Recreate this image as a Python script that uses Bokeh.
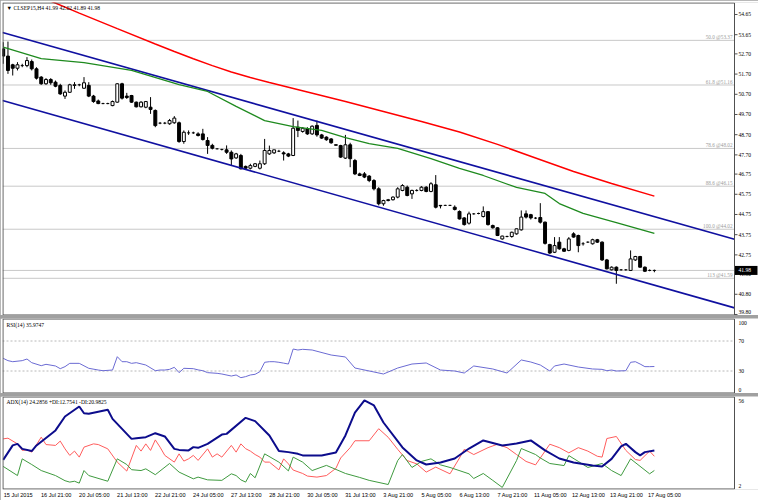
import numpy as np
from bokeh.plotting import figure
from bokeh.models import Range1d, FixedTicker
from bokeh.layouts import column
from bokeh.embed import file_html
from bokeh.resources import INLINE

# ---------------- data ----------------
chart_title = "\u25bc CLSEP15,H4  41.99 42.02 41.89 41.98"

open_ = [52.95, 52.59, 52.16, 51.99, 52.12, 52.12, 52.32, 51.96, 51.55, 51.22,
         51.43, 51.30, 51.14, 50.61, 50.80, 51.14, 51.17, 51.00, 51.14, 50.61,
         50.37, 50.24, 50.24, 50.14, 50.31, 51.22, 50.61, 50.64, 50.31, 50.08,
         50.06, 50.06, 49.90, 49.27, 49.27, 49.24, 49.29, 49.29, 48.36, 48.79,
         48.79, 48.74, 48.74, 48.41, 48.17, 48.00, 47.97, 47.95, 47.83, 47.55,
         47.67, 47.13, 47.04, 47.13, 47.04, 47.26, 47.75, 47.80, 47.88, 47.80,
         47.75, 47.67, 49.07, 48.86, 48.99, 48.74, 49.16, 48.69, 48.58, 48.49,
         48.20, 48.16, 47.54, 48.20, 47.42, 46.76, 46.76, 46.65, 46.43, 46.02,
         45.28, 45.44, 45.48, 45.61, 45.94, 46.10, 45.77, 45.94, 45.94, 46.10,
         45.89, 46.22, 45.20, 45.20, 45.20, 45.11, 44.90, 44.58, 44.32, 44.78,
         44.80, 44.65, 44.89, 44.20, 44.09, 43.54, 43.66, 43.66, 43.79, 43.99,
         44.78, 44.74, 44.57, 44.60, 44.37, 43.26, 42.88, 43.38, 43.05, 42.97,
         43.79, 43.71, 43.30, 43.38, 43.30, 43.50, 43.38, 42.50, 42.01, 42.14,
         42.01, 42.01, 41.98, 42.50, 42.67, 42.14, 41.98, 41.99]
high = [53.28, 53.31, 52.21, 52.29, 52.21, 52.54, 52.42, 52.04, 51.60, 51.50,
        51.50, 51.38, 51.22, 50.89, 51.22, 51.30, 51.22, 51.55, 51.30, 50.67,
        50.44, 50.28, 50.28, 50.39, 51.25, 51.27, 50.77, 50.67, 50.34, 50.36,
        50.37, 50.56, 49.95, 49.33, 49.33, 49.48, 49.62, 49.35, 48.91, 48.91,
        48.85, 48.82, 48.99, 48.58, 48.25, 48.03, 48.00, 48.17, 47.92, 47.80,
        47.75, 47.17, 47.26, 47.30, 47.42, 48.49, 48.16, 47.95, 47.95, 47.88,
        47.80, 49.52, 49.40, 49.07, 49.07, 49.16, 49.40, 48.74, 48.62, 48.53,
        48.22, 48.20, 48.69, 48.30, 47.50, 46.82, 46.85, 46.70, 46.50, 46.10,
        45.48, 45.52, 45.65, 46.10, 46.25, 46.18, 45.98, 46.00, 46.15, 46.15,
        46.35, 46.70, 45.22, 45.23, 45.23, 45.20, 44.95, 44.62, 44.89, 44.82,
        44.84, 45.15, 44.92, 44.25, 44.12, 43.70, 43.70, 43.90, 44.05, 44.95,
        44.95, 44.78, 44.62, 45.31, 44.40, 43.30, 43.63, 43.63, 43.10, 43.63,
        43.87, 43.75, 43.38, 43.42, 43.55, 43.54, 43.42, 42.55, 42.18, 42.18,
        42.05, 42.05, 42.97, 42.70, 42.70, 42.18, 42.03, 42.02]
low = [52.21, 51.71, 51.63, 51.88, 52.04, 52.04, 51.88, 51.43, 51.17, 51.17,
       51.17, 51.05, 50.67, 50.47, 50.77, 50.97, 51.10, 50.97, 50.56, 50.28,
       50.21, 50.21, 50.21, 50.11, 50.28, 50.44, 50.47, 50.28, 50.05, 50.05,
       50.01, 49.73, 49.07, 49.22, 49.22, 49.19, 49.24, 48.30, 48.25, 48.69,
       48.74, 48.61, 48.41, 47.75, 47.97, 47.97, 47.92, 47.75, 47.17, 47.50,
       46.98, 47.01, 46.98, 47.09, 46.98, 47.20, 47.70, 47.75, 47.84, 47.42,
       47.59, 47.64, 48.58, 48.80, 48.69, 48.69, 48.60, 48.49, 48.40, 48.25,
       48.16, 47.55, 47.50, 47.09, 46.70, 46.65, 46.55, 46.35, 45.94, 45.20,
       45.18, 45.40, 45.44, 45.55, 45.90, 45.65, 45.52, 45.89, 45.90, 45.85,
       45.85, 45.05, 45.05, 45.17, 45.17, 44.95, 44.50, 44.20, 44.25, 44.74,
       44.76, 44.60, 44.20, 44.05, 43.68, 43.50, 43.62, 43.60, 43.75, 43.95,
       44.55, 44.50, 44.52, 44.30, 43.26, 42.80, 42.84, 43.00, 42.90, 42.93,
       43.60, 42.88, 43.21, 43.34, 43.26, 43.34, 42.45, 42.03, 41.98, 41.32,
       41.97, 41.97, 41.95, 42.45, 42.12, 41.90, 41.94, 41.89]
close = [52.59, 51.88, 51.99, 52.16, 52.12, 52.37, 51.96, 51.50, 51.22, 51.43,
         51.27, 51.10, 50.72, 50.80, 51.17, 51.17, 51.17, 51.27, 50.61, 50.34,
         50.24, 50.24, 50.24, 50.34, 51.22, 50.51, 50.54, 50.31, 50.08, 50.31,
         50.34, 49.95, 49.15, 49.27, 49.27, 49.40, 49.52, 48.36, 48.82, 48.79,
         48.79, 48.66, 48.46, 48.17, 48.03, 48.00, 47.97, 47.83, 47.50, 47.75,
         47.01, 47.04, 47.17, 47.26, 47.26, 47.92, 47.92, 47.95, 47.88, 47.75,
         47.64, 49.02, 48.91, 49.02, 48.74, 49.12, 48.69, 48.53, 48.45, 48.30,
         48.18, 47.59, 48.20, 47.51, 46.76, 46.68, 46.60, 46.43, 46.02, 45.28,
         45.44, 45.48, 45.61, 46.02, 46.18, 45.69, 45.94, 45.94, 46.10, 45.89,
         46.27, 45.11, 45.18, 45.20, 45.20, 45.00, 44.53, 44.25, 44.78, 44.78,
         44.80, 44.89, 44.25, 44.09, 43.71, 43.68, 43.66, 43.87, 44.04, 44.62,
         44.62, 44.58, 44.57, 44.37, 43.32, 42.84, 43.21, 43.05, 42.93, 43.54,
         43.63, 43.21, 43.30, 43.38, 43.50, 43.38, 42.50, 42.06, 42.14, 41.98,
         42.01, 42.01, 42.55, 42.67, 42.14, 41.94, 41.98, 41.98]

date_labels = ["15 Jul 2015", "16 Jul 21:00", "20 Jul 05:00", "21 Jul 13:00",
               "22 Jul 21:00", "24 Jul 05:00", "27 Jul 13:00", "28 Jul 21:00",
               "30 Jul 05:00", "31 Jul 13:00", "3 Aug 21:00", "5 Aug 05:00",
               "6 Aug 13:00", "7 Aug 21:00", "11 Aug 05:00", "12 Aug 13:00",
               "13 Aug 21:00", "17 Aug 05:00"]
date_label_step = 8  # one label every 8 H4 bars

price_ticks = [54.65, 53.65, 52.70, 51.70, 50.70, 49.70, 48.70, 47.70, 46.75,
               45.75, 44.75, 43.75, 42.75, 41.80, 40.80, 39.80]

fib_pct = ["50.0", "61.8", "78.6", "88.6", "100.0", "113"]
fib_price = [53.37, 51.16, 48.02, 46.15, 44.02, 41.59]
bid_price = 41.98

red_idx = [8, 16, 24, 32, 36, 40, 44, 48, 52, 56, 64, 72, 80, 88, 96, 104, 112,
           120, 128, 137]
red_val = [55.51, 54.72, 53.95, 53.19, 52.82, 52.46, 52.12, 51.80, 51.53, 51.28,
           50.81, 50.34, 49.85, 49.35, 48.83, 48.22, 47.55, 46.88, 46.28, 45.66]

green_idx = [0, 8, 17, 27, 37, 43, 49, 55, 61, 67, 72, 77, 83, 90, 96, 101, 108,
             114, 117, 122, 129, 137]
green_val = [53.03, 52.47, 52.27, 51.88, 51.18, 50.84, 50.10, 49.40, 49.10, 48.91,
             48.56, 48.26, 48.02, 47.52, 47.03, 46.68, 46.09, 45.79, 45.29, 44.80,
             44.35, 43.81]

upper_anchor_idx = [0, 137]
upper_anchor_val = [53.75, 44.64]
lower_anchor_idx = [0, 137]
lower_anchor_val = [50.38, 41.25]

rsi_label = "RSI(14) 35.9747"
rsi_levels = [30, 70]
rsi_axis_labels = ["100", "70", "30", "0"]
rsi_idx = [0, 1, 2, 4, 5, 6, 8, 9, 11, 12, 13, 14, 16, 18, 20, 21, 23, 24, 25, 26,
           27, 28, 30, 32, 33, 34, 35, 36, 37, 38, 40, 41, 42, 43, 45, 46, 48, 49,
           50, 51, 52, 53, 54, 55, 56, 57, 58, 59, 60, 61, 62, 63, 65, 69, 72, 74,
           78, 80, 83, 86, 89, 92, 95, 97, 99, 103, 106, 109, 111, 113, 115, 116,
           118, 121, 124, 126, 127, 128, 129, 131, 132, 133, 134, 135, 136, 137]
rsi_val = [46.9, 43.8, 42.4, 43.8, 46.0, 41.1, 37.1, 38.9, 36.7, 33.1, 35.8, 40.2,
           40.2, 33.6, 31.3, 30.4, 31.3, 49.1, 42.4, 42.4, 40.2, 41.1, 38.0, 30.4,
           31.3, 31.3, 32.2, 34.9, 27.8, 33.6, 33.1, 31.5, 30.4, 27.8, 26.9, 26.0,
           23.3, 24.7, 21.1, 22.5, 24.7, 25.6, 29.1, 41.6, 42.4, 42.4, 41.6, 40.5,
           39.3, 59.3, 58.0, 58.9, 58.0, 51.3, 48.7, 34.0, 28.7, 26.0, 34.0, 39.3,
           40.7, 31.3, 30.0, 27.3, 36.7, 32.7, 27.3, 44.7, 42.0, 38.0, 30.0, 36.7,
           39.3, 35.3, 32.7, 32.2, 30.4, 31.3, 30.0, 30.4, 41.6, 42.4, 39.3, 35.8,
           35.8, 35.97]

adx_label = "ADX(14) 24.2856 +DI:12.7541 -DI:20.9825"
adx_axis_labels = ["56", "2"]
adx_idx = [0, 2, 3, 4, 6, 7, 11, 13, 16, 17, 18, 22, 23, 27, 28, 30, 32, 34, 36, 37,
           39, 40, 41, 43, 46, 47, 51, 53, 56, 58, 60, 62, 63, 67, 70, 72, 74, 76,
           78, 80, 84, 87, 89, 92, 95, 98, 101, 105, 108, 111, 114, 117, 120, 124,
           126, 128, 130, 131, 133, 134, 135, 137]
adx_val = [18.9, 27.3, 28.2, 25.3, 24.0, 27.3, 36.0, 44.1, 49.9, 46.0, 45.7, 48.0,
           42.7, 31.1, 31.5, 32.1, 34.4, 32.5, 25.3, 24.7, 24.4, 26.3, 25.9, 28.2,
           33.6, 34.0, 43.3, 41.4, 33.1, 24.0, 23.4, 22.4, 21.5, 21.5, 23.2, 33.1,
           46.4, 53.4, 50.5, 40.6, 26.1, 18.6, 16.2, 17.4, 19.7, 25.5, 30.2, 27.3,
           28.4, 30.2, 24.4, 19.7, 17.4, 15.6, 15.1, 19.5, 26.7, 28.2, 23.4, 21.5,
           23.4, 24.29]
pdi_idx = [0, 3, 4, 6, 8, 11, 13, 14, 15, 16, 17, 18, 22, 24, 26, 27, 29, 30, 32,
           35, 37, 40, 41, 43, 46, 48, 49, 50, 51, 52, 53, 55, 58, 60, 61, 63, 65,
           68, 72, 75, 77, 81, 83, 84, 86, 88, 90, 92, 94, 98, 99, 101, 103, 105,
           108, 109, 112, 113, 115, 118, 119, 121, 123, 126, 128, 130, 132, 136, 137]
pdi_val = [15.1, 9.8, 19.5, 16.2, 12.7, 9.8, 6.8, 6.0, 6.5, 5.4, 12.7, 9.8, 6.5,
           19.5, 16.2, 13.2, 12.7, 13.7, 10.3, 16.8, 11.8, 7.9, 8.9, 7.3, 7.0, 10.8,
           9.8, 7.3, 6.0, 11.0, 8.5, 22.4, 17.6, 12.5, 20.5, 17.6, 12.7, 15.7, 11.0,
           8.7, 7.0, 4.6, 18.5, 22.0, 14.5, 18.0, 19.5, 16.0, 14.5, 10.8, 8.1, 11.0,
           7.0, 2.9, 18.5, 25.5, 22.0, 20.0, 16.8, 15.6, 21.4, 18.0, 14.5, 16.8,
           12.7, 9.8, 19.5, 10.8, 12.75]
mdi_idx = [0, 1, 3, 4, 5, 6, 8, 9, 11, 12, 13, 14, 15, 16, 17, 19, 20, 22, 24, 26,
           28, 29, 30, 31, 32, 33, 34, 36, 37, 38, 39, 40, 41, 43, 44, 45, 46, 48,
           49, 50, 51, 52, 53, 54, 55, 56, 58, 59, 60, 61, 63, 64, 66, 68, 70, 71,
           73, 74, 77, 79, 81, 83, 85, 87, 89, 91, 94, 96, 97, 99, 102, 104, 106,
           108, 110, 112, 114, 115, 117, 119, 121, 123, 125, 126, 127, 129, 131,
           133, 134, 136, 137]
mdi_val = [31.1, 31.5, 28.2, 24.4, 24.7, 23.4, 32.1, 27.8, 27.3, 29.8, 25.3, 21.5,
           24.0, 20.5, 26.3, 28.2, 27.8, 25.3, 17.6, 12.4, 27.3, 24.0, 28.2, 24.4,
           30.5, 26.3, 21.5, 17.6, 22.4, 18.2, 19.5, 21.5, 18.6, 25.3, 20.5, 22.4,
           20.5, 27.3, 23.4, 28.2, 25.4, 24.0, 22.0, 20.5, 17.6, 17.6, 13.1, 19.5,
           16.6, 13.0, 11.0, 9.5, 8.9, 9.8, 14.0, 20.0, 26.0, 30.0, 30.0, 37.0,
           32.0, 25.0, 18.5, 16.6, 11.8, 14.7, 10.8, 20.0, 25.0, 22.0, 26.0, 28.0,
           26.0, 22.0, 18.0, 16.0, 24.0, 28.0, 26.0, 23.0, 26.0, 24.0, 21.0, 20.5,
           31.3, 32.5, 24.4, 19.1, 18.6, 24.0, 20.98]

# ---------------- layout / style ----------------
FONT = "Liberation Sans"
FS = "5.6px"
PPB = 4.753            # pixels per bar
X0 = -0.15             # first visible bar position
XB = X0 + 732 / PPB    # right border of the chart area (price scale starts here)
XE = X0 + 756 / PPB    # right edge of the canvas
xr = Range1d(X0, XE)
BORDER = "#505050"


def make(height, y0, y1, top, bottom, with_xaxis):
    p = figure(width=758, height=height, x_range=xr, y_range=Range1d(y0, y1),
               output_backend="svg", toolbar_location=None,
               y_axis_location=None,
               x_axis_location="below" if with_xaxis else None,
               min_border_left=2, min_border_right=0,
               min_border_top=top, min_border_bottom=bottom)
    p.grid.visible = False
    p.outline_line_color = None
    p.border_fill_color = "white"
    return p


def frame_box(p, y0, y1, ppu):
    p.quad(left=X0 + 0.5 / PPB, right=XB, bottom=y0 + 0.5 / ppu,
           top=y1 - 0.5 / ppu, fill_color=None, line_color=BORDER, line_width=1)


def scale_labels(p, vals, labels, y0, y1, ppu, ticks=True):
    n = len(vals)
    if ticks:
        p.segment(x0=[XB] * n, y0=vals, x1=[XB + 3 / PPB] * n, y1=vals,
                  line_color=BORDER, line_width=1)
    # keep labels that sit on the window edge fully inside it
    offs = []
    for v in vals:
        d_bot = (v - y0) * ppu
        d_top = (y1 - v) * ppu
        offs.append(-(4 - d_bot) if d_bot < 4 else ((4 - d_top) if d_top < 4 else 0))
    p.text(x=[XB] * n, y=vals, text=labels, x_offset=4, y_offset=offs,
           text_align="left", text_baseline="middle", text_font_size=FS,
           text_color="black", text_font=FONT)


# ---------- main price panel ----------
P_PPU = 20.2
P_Y1 = 55.244
P_Y0 = P_Y1 - 313 / P_PPU
p1 = make(315, P_Y0, P_Y1, 2, 0, False)

for lvl in fib_price + [bid_price]:
    p1.segment(x0=[X0], y0=[lvl], x1=[XB], y1=[lvl], line_color="#c8c8c8",
               line_width=1)

idx = np.arange(len(close))
o = np.array(open_)
c = np.array(close)
h = np.array(high)
lo = np.array(low)
top_ = np.maximum(o, c)
bot_ = np.minimum(o, c)
doji = np.abs(c - o) < 0.015
bull = (c > o) & ~doji
bear = (c < o) & ~doji
bw = 0.62

p1.segment(x0=idx, y0=lo, x1=idx, y1=h, line_color="black", line_width=1)
p1.vbar(x=idx[bull], top=top_[bull], bottom=bot_[bull], width=bw,
        fill_color="white", line_color="black", line_width=1)
p1.vbar(x=idx[bear], top=top_[bear], bottom=bot_[bear], width=bw,
        fill_color="black", line_color="black", line_width=1)
p1.segment(x0=idx[doji] - bw / 2, y0=c[doji], x1=idx[doji] + bw / 2, y1=c[doji],
           line_color="black", line_width=1)


def extend(ai, av):
    s = (av[1] - av[0]) / (ai[1] - ai[0])
    return [X0, XB], [av[0] + s * (X0 - ai[0]), av[0] + s * (XB - ai[0])]


ux, uy = extend(upper_anchor_idx, upper_anchor_val)
lx, ly = extend(lower_anchor_idx, lower_anchor_val)
p1.line(ux, uy, line_color="#1010a0", line_width=1.6)
p1.line(lx, ly, line_color="#1010a0", line_width=1.6)

p1.line(green_idx, green_val, line_color="#1e8a1e", line_width=1.3)
p1.line(red_idx, red_val, line_color="#ff0000", line_width=1.5)

p1.text(x=[XB] * len(fib_price), y=fib_price,
        text=[f"{a} @{b:.2f}" for a, b in zip(fib_pct, fib_price)],
        text_align="right", text_baseline="bottom", x_offset=-2, y_offset=0,
        text_font_size="5.2px", text_color="#9a9a9a", text_font=FONT)

p1.text(x=[X0], y=[P_Y1], text=[chart_title], text_baseline="top",
        x_offset=4, y_offset=2, text_font_size=FS, text_color="black",
        text_font=FONT)

frame_box(p1, P_Y0, P_Y1, P_PPU)
scale_labels(p1, price_ticks, [f"{v:.2f}" for v in price_ticks], P_Y0, P_Y1, P_PPU)

# current price marker on the scale
p1.quad(left=[XB + 0.5 / PPB], right=[XB + 23 / PPB],
        bottom=[bid_price - 4.5 / P_PPU], top=[bid_price + 4.5 / P_PPU],
        fill_color="black", line_color=None)
p1.text(x=[XB], y=[bid_price], text=[f"{bid_price:.2f}"], x_offset=4,
        text_align="left", text_baseline="middle", text_font_size=FS,
        text_color="white", text_font=FONT)

# ---------- RSI panel ----------
R_PPU = 0.75
p2 = make(75, 0, 100, 0, 0, False)
for lvl in rsi_levels:
    p2.segment(x0=[X0], y0=[lvl], x1=[XB], y1=[lvl], line_color="#b8b8b8",
               line_width=1, line_dash="2 2")
p2.line(rsi_idx, rsi_val, line_color="#6b6bd3", line_width=1)
p2.text(x=[X0], y=[100], text=[rsi_label], text_baseline="top", x_offset=4,
        y_offset=3, text_font_size=FS, text_color="black", text_font=FONT)
frame_box(p2, 0, 100, R_PPU)
# scale labels: top/bottom limits are drawn just inside the window
scale_labels(p2, [100 - 5.3, 70, 30, 0 + 4.0], rsi_axis_labels, 0, 100, R_PPU,
             ticks=False)

# ---------- ADX panel ----------
A_Y0, A_Y1 = 1.7, 55.7
A_PPU = 93 / (A_Y1 - A_Y0)
p3 = make(104, A_Y0, A_Y1, 0, 11, True)
p3.line(mdi_idx, mdi_val, line_color="#ff5c5c", line_width=1)
p3.line(pdi_idx, pdi_val, line_color="#3f9a3f", line_width=1)
p3.line(adx_idx, adx_val, line_color="#0c0c8c", line_width=2)
p3.text(x=[X0], y=[A_Y1], text=[adx_label], text_baseline="top", x_offset=4,
        y_offset=2, text_font_size=FS, text_color="black", text_font=FONT)
frame_box(p3, A_Y0, A_Y1, A_PPU)
scale_labels(p3, [A_Y1 - 3 / A_PPU, A_Y0 + 4 / A_PPU], adx_axis_labels,
             A_Y0, A_Y1, A_PPU, ticks=False)

xa = p3.xaxis[0]
shift = 15.0 / PPB  # labels start at their bar (MT4 style)
tick_pos = [round(k * date_label_step + shift, 3) for k in range(len(date_labels))]
xa.ticker = FixedTicker(ticks=tick_pos)
xa.major_label_overrides = {t: s for t, s in zip(tick_pos, date_labels)}
xa.axis_line_color = None
xa.major_tick_out = 0
xa.major_tick_in = 0
xa.minor_tick_out = 0
xa.minor_tick_in = 0
xa.major_label_standoff = 2
xa.major_label_text_font = FONT
xa.major_label_text_font_size = FS
xa.major_label_text_color = "black"

layout = column(p1, p2, p3, spacing=3, styles={"background-color": "#a0a0a0"})

open("out.html", "w").write(file_html(layout, INLINE))
